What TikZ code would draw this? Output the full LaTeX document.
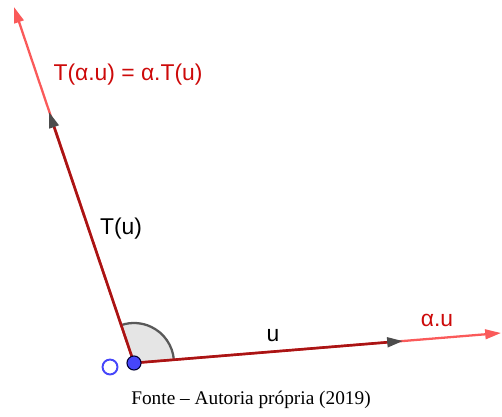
\documentclass[tikz,border=0pt]{standalone}
\usepackage{fontspec}
\setmainfont{Liberation Sans}
\newfontfamily\captionfont{Liberation Serif}
\usepackage{xcolor}
\usepackage{tikz}
\usetikzlibrary{arrows.meta, positioning, calc}

\definecolor{vecred}{RGB}{170,20,20}
\definecolor{lightred}{RGB}{250,90,90}
\definecolor{labelred}{RGB}{205,10,10}
\definecolor{pointblue}{RGB}{70,70,250}

\begin{document}
\begin{tikzpicture}[
    x=0.02cm, y=0.02cm,
    vec/.style={draw=vecred, line width=1.5pt, -{Triangle[length=9pt, width=5.5pt, color=black!70]}},
    scaledvec/.style={draw=lightred, line width=1.3pt, -{Triangle[length=9pt, width=5.5pt, color=lightred]}},
    lbl/.style={font=\fontsize{13}{15}\selectfont, inner sep=0pt},
    redlbl/.style={lbl, text=labelred}
]
\useasboundingbox (0,0) rectangle (502,416);

\coordinate (O) at (134,53);
\coordinate (u) at (403,75);
\coordinate (au) at (501,83);
\coordinate (Tu) at (49,304);
\coordinate (Tau) at (14,409);

% angle between u and T(u)
\fill[black!10] (O) -- ++(4.67:40) arc[start angle=4.67, end angle=108.6, radius=40] -- cycle;
\draw[black!65, line width=1.3pt] ($(O)+(4.67:40)$) arc[start angle=4.67, end angle=108.6, radius=40];

\draw[scaledvec] (O) -- (au);
\draw[scaledvec] (O) -- (Tau);
\draw[vec] (O) -- (u);
\draw[vec] (O) -- (Tu);

\node[circle, draw=pointblue, line width=1.1pt, minimum size=8.5pt, inner sep=0pt] (origin) at (110,49) {};
\node[circle, draw=black!80!blue, fill=pointblue, line width=0.6pt, minimum size=8pt, inner sep=0pt] (dot) at (O) {};

\node[redlbl] (labelTau) at (128,341) {T(α.u) = α.T(u)};
\node[lbl] (labelTu) at (121,187) {T(u)};
\node[lbl] (labelu) at (273,80) {u};
\node[redlbl] (labelau) at (437,96) {α.u};

\node[font=\captionfont\fontsize{11}{13}\selectfont, inner sep=0pt] (caption) at (251,16) {Fonte – Autoria própria (2019)};
\end{tikzpicture}
\end{document}
